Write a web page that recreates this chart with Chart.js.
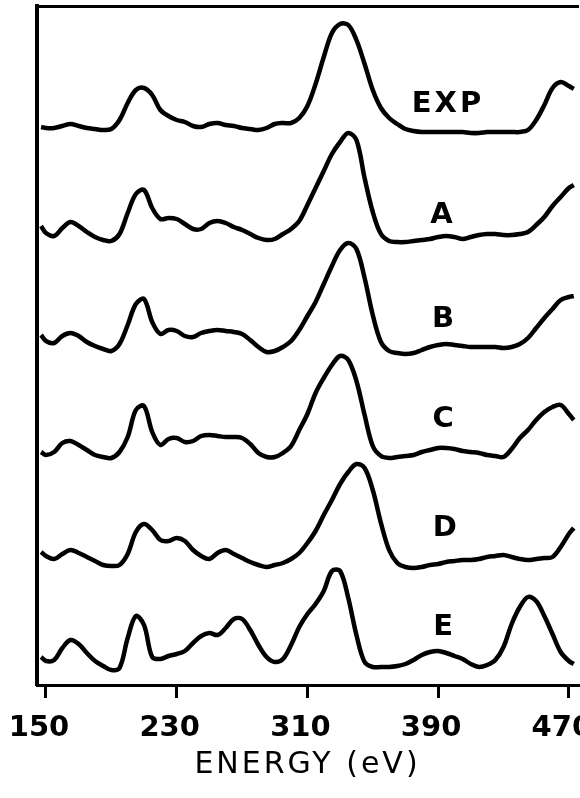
<!DOCTYPE html>
<html>
<head>
<meta charset="utf-8">
<script src="https://cdn.jsdelivr.net/npm/chart.js@4"></script>
<style>
  html, body { margin: 0; padding: 0; background: #fff; overflow: hidden; }
  canvas { display: block; }
</style>
</head>
<body>
<canvas id="spectra" width="610" height="798"></canvas>
<script>
// energy grid (eV), shared by all curves
const energy = [147, 150, 155, 160, 165, 170, 175, 180, 185, 190, 195, 200, 205, 210, 215, 220,
  225, 230, 235, 240, 245, 250, 255, 260, 265, 270, 275, 280, 285, 290, 295, 300, 305, 310,
  315, 320, 325, 330, 335, 340, 345, 350, 355, 360, 365, 370, 375, 380, 385, 390, 395, 400,
  405, 410, 415, 420, 425, 430, 435, 440, 445, 450, 455, 460, 465, 470, 473];

// intensities above each curve's own baseline (arb. units)
const expData = [6, 5, 5, 7, 9, 7, 5, 4, 3, 4, 13, 30, 43, 45, 38, 23, 17, 13, 11, 7, 6, 9, 10, 8,
  7, 5, 4, 3, 5, 9, 10, 10, 15, 27, 49, 76, 100, 109, 108, 93, 69, 43, 25, 15, 9, 4, 2, 1, 1, 1,
  1, 1, 1, 0, 0, 1, 1, 1, 1, 1, 3, 13, 28, 45, 51, 47, 44];
const aData = [16, 9, 6, 14, 20, 16, 10, 5, 2, 1, 8, 29, 48, 52, 34, 23, 24, 23, 18, 13, 13, 19,
  21, 19, 15, 12, 8, 4, 2, 3, 8, 13, 21, 37, 54, 71, 88, 100, 109, 102, 64, 30, 8, 1, 0, 0, 1, 2,
  3, 5, 6, 5, 3, 5, 7, 8, 8, 7, 7, 8, 10, 17, 25, 36, 45, 54, 57];
const bData = [19, 13, 11, 18, 21, 18, 12, 8, 5, 3, 10, 29, 50, 55, 32, 20, 24, 23, 18, 17, 21,
  23, 24, 23, 22, 20, 14, 7, 2, 3, 7, 13, 24, 38, 52, 70, 88, 104, 111, 105, 76, 39, 12, 3, 1, 0,
  1, 4, 7, 9, 10, 9, 8, 7, 7, 7, 7, 6, 7, 10, 16, 26, 36, 45, 54, 57, 58];
const cData = [6, 3, 6, 15, 17, 13, 8, 3, 1, 0, 6, 21, 48, 52, 26, 13, 19, 20, 16, 17, 22, 23, 22,
  21, 21, 20, 14, 5, 1, 1, 5, 12, 28, 44, 65, 80, 93, 102, 98, 77, 43, 12, 2, 0, 1, 2, 3, 6, 8,
  10, 10, 9, 7, 6, 5, 3, 2, 1, 9, 20, 28, 38, 46, 51, 53, 44, 38];
const dData = [16, 12, 9, 14, 18, 15, 11, 7, 3, 2, 3, 14, 36, 44, 38, 28, 27, 30, 27, 18, 12, 9,
  15, 18, 14, 10, 6, 3, 1, 3, 5, 9, 15, 25, 37, 53, 68, 84, 96, 104, 100, 78, 45, 18, 5, 1, 0, 1,
  3, 4, 6, 7, 8, 8, 9, 11, 12, 13, 11, 9, 8, 9, 10, 11, 21, 34, 40];
const eData = [15, 11, 12, 24, 32, 28, 19, 11, 6, 2, 4, 34, 56, 47, 15, 13, 16, 18, 21, 29, 36,
  39, 37, 44, 53, 53, 42, 27, 15, 10, 13, 27, 45, 58, 68, 81, 101, 101, 74, 37, 10, 5, 5, 5, 6, 8,
  12, 17, 20, 21, 19, 16, 13, 8, 5, 7, 12, 25, 48, 65, 75, 71, 56, 38, 20, 11, 8];

const seriesNames = ["EXP", "A", "B", "C", "D", "E"];
const seriesData = [expData, aData, bData, cData, dData, eData];
const offsets = [552, 443, 331, 227, 117, 13];      // vertical stacking of the curves
const labelEnergy = [396, 393, 394, 394, 395, 394];  // where the curve names sit
const labelLift = [28.5, 26.5, 34.5, 38.5, 39.5, 44.5];

const tickValues = [150, 230, 310, 390, 470];

// the axis title is spaced out like the typewriter original, tick numbers are not
function spaceTitle(scale) {
  if (scale._spaced) return;
  const drawTitle = scale.drawTitle.bind(scale);
  scale.drawTitle = function () {
    const ctx = scale.ctx;
    ctx.save();
    ctx.letterSpacing = "3px";
    drawTitle();
    ctx.restore();
  };
  scale._spaced = true;
}

// curve names next to each trace
const curveNames = {
  id: "curveNames",
  afterDatasetsDraw(chart) {
    const { ctx, scales } = chart;
    ctx.save();
    ctx.letterSpacing = "3px";
    ctx.font = 'bold 29px "DejaVu Sans"';
    ctx.fillStyle = "#000";
    ctx.textAlign = "center";
    ctx.textBaseline = "middle";
    seriesNames.forEach((name, i) => {
      ctx.fillText(name,
        scales.x.getPixelForValue(labelEnergy[i]),
        scales.y.getPixelForValue(offsets[i] + labelLift[i]));
    });
    ctx.restore();
  }
};

new Chart(document.getElementById("spectra"), {
  type: "line",
  data: {
    datasets: seriesData.map((vals, i) => ({
      label: seriesNames[i],
      data: vals.map((v, j) => ({ x: energy[j], y: v + offsets[i] })),
      borderColor: "#000",
      borderWidth: 4.5,
      pointRadius: 0,
      tension: 0.35,
      fill: false
    }))
  },
  options: {
    responsive: false,
    animation: false,
    events: [],
    layout: { padding: { left: 37, right: 32, top: 6, bottom: 0 } },
    plugins: {
      legend: { display: false },
      tooltip: { enabled: false }
    },
    scales: {
      x: {
        type: "linear",
        position: "bottom",
        min: 144.5,
        max: 475.6,
        afterBuildTicks: (s) => { s.ticks = tickValues.map(v => ({ value: v })); },
        afterFit: (s) => { s.height = 113; s.paddingLeft = 0; s.paddingRight = 0; },
        afterUpdate: spaceTitle,
        grid: {
          display: true,
          drawOnChartArea: false,
          drawTicks: true,
          tickLength: 13,
          lineWidth: 3,
          color: "#000"
        },
        border: { display: true, width: 3, color: "#000" },
        ticks: {
          color: "#000",
          font: { family: "DejaVu Sans", size: 29, weight: "bold" },
          padding: 13,
          labelOffset: -7,
          maxRotation: 0,
          autoSkip: false,
          callback: (v) => String(v)
        },
        title: {
          display: true,
          text: "ENERGY (eV)",
          color: "#000",
          font: { family: "DejaVu Sans", size: 30 },
          padding: { top: 0, bottom: 15 }
        }
      },
      xTop: {
        type: "linear",
        position: "top",
        min: 144.5,
        max: 475.6,
        afterFit: (s) => { s.height = 0; s.paddingLeft = 0; s.paddingRight = 0; },
        grid: { display: false, drawTicks: false },
        border: { display: true, width: 3, color: "#000" },
        ticks: { display: false }
      },
      y: {
        type: "linear",
        min: 0,
        max: 679,
        afterFit: (s) => { s.width = 0; },
        grid: { display: false, drawTicks: false },
        border: { display: true, width: 4, color: "#000" },
        ticks: { display: false }
      }
    }
  },
  plugins: [curveNames]
});
</script>
</body>
</html>
